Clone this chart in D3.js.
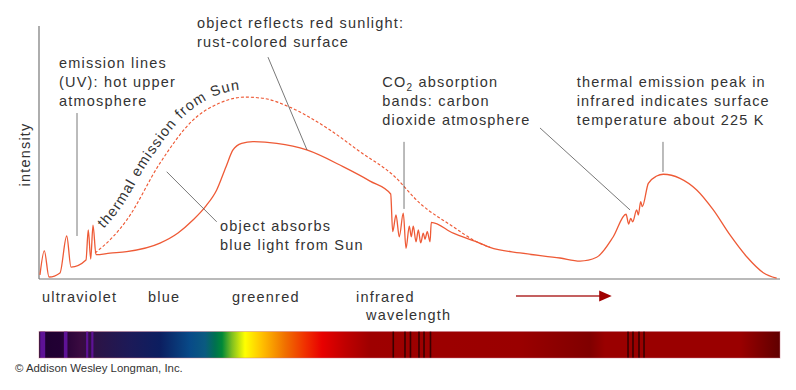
<!DOCTYPE html>
<html>
<head>
<meta charset="utf-8">
<script src="https://cdn.jsdelivr.net/npm/d3@7"></script>
<style>
  html, body { margin: 0; padding: 0; background: #fff; }
  svg text { font-family: "Liberation Sans", Arial, Helvetica, sans-serif; fill: #333; }
</style>
</head>
<body>
<div id="chart"></div>
<script>
// ── Data (wavelength position 0–100, intensity 0–100) ─────────────────────
const observedSpectrum = [
  [0.13, 1.6], [0.72, 11.1], [1.35, 0.8], [2.83, 2.4], [3.74, 17.0], [4.32, 4.7],
  [6.34, 7.5], [6.65, 19.4], [6.98, 7.9], [7.29, 21.3], [7.69, 9.6], [9.58, 10.2],
  [11.84, 10.8], [16.33, 14.2], [18.76, 18.2], [20.78, 23.3], [22.54, 28.9], [23.98, 35.2],
  [25.24, 44.4], [26.18, 51.0], [27.35, 53.6], [28.88, 54.3], [32.08, 53.6], [36.13, 51.0],
  [41.03, 44.4], [44.67, 38.7], [47.46, 33.6],
  [47.73, 18.7], [48.18, 25.3], [48.62, 16.7], [49.16, 26.0], [49.53, 12.1], [49.97, 20.9],
  [50.24, 16.7], [50.51, 20.9], [50.88, 14.7], [51.19, 19.4], [51.51, 14.3], [51.86, 18.1],
  [52.09, 15.7], [52.40, 18.7], [52.77, 14.7], [52.94, 22.4],
  [55.91, 18.1], [59.07, 14.7], [60.86, 12.5], [64.91, 10.3], [70.31, 8.3], [73.01, 7.1],
  [75.26, 8.6], [77.50, 16.7], [79.22, 25.6], [79.58, 21.7], [79.85, 24.0], [80.12, 22.6],
  [80.66, 27.3], [80.88, 25.3], [81.20, 30.6], [81.42, 28.6], [82.23, 37.8], [83.36, 40.7],
  [84.25, 41.4], [86.50, 39.8], [88.76, 35.2], [91.0, 27.3], [93.25, 17.4], [95.51, 8.8],
  [97.75, 2.5], [99.55, 0.3]
]

const sunThermal = [
  [7.56, 10.3], [9.99, 16.7], [11.84, 23.3], [16.33, 45.8], [20.78, 62.8], [24.43, 69.6],
  [27.80, 71.9], [30.50, 71.3], [33.47, 68.4], [39.27, 58.9], [43.32, 50.3], [47.77, 41.1],
  [51.42, 29.9], [55.87, 20.7], [59.07, 14.7], [60.86, 12.5]
]

const bandLabels = ['ultraviolet', 'blue', 'greenred', 'infrared']
const bandPositions = [0.40, 14.71, 26.05, 42.78]

const uvEmissionLines = [0.5, 3.6, 6.5, 7.2]
const co2AbsorptionLines = [47.81, 49.39, 50.13, 51.28, 51.96, 52.83, 79.49, 80.16, 80.97, 81.65]

const spectrumStops = [
  [0, '#1e0030'], [2.83, '#220034'], [5.53, '#3a0a40'], [8.23, '#2a1448'], [12.28, '#1c1a58'],
  [16.33, '#0c1e60'], [20.38, '#084a88'], [22.40, '#0a5a80'], [23.75, '#007050'], [24.70, '#008838'],
  [26.05, '#80c020'], [27.80, '#ffff00'], [30.09, '#ffc000'], [33.20, '#f07000'], [35.90, '#f03000'],
  [38.19, '#e80000'], [41.30, '#c00000'], [44.67, '#9e0000'], [64.91, '#9a0000'], [74.36, '#800000'],
  [76.38, '#9a0000'], [94.60, '#9a0000'], [100, '#600000']
]

// annotation text, anchor (wavelength, intensity) of first baseline, leader lines
const notes = [
  { text: ['emission lines', '(UV): hot upper', 'atmosphere'], at: [2.7, 83.5], leaders: [[5.13, 65.6, 5.13, 17.0]] },
  { text: ['object reflects red sunlight:', 'rust-colored surface'], at: [21.32, 99.1], leaders: [[30.9, 87.7, 36.17, 51.0]] },
  { text: ['CO|2| absorption', 'bands: carbon', 'dioxide atmosphere'], at: [46.33, 76.0], leaders: [[49.26, 54.2, 49.26, 27.7], [67.61, 59.7, 79.76, 27.3]] },
  { text: ['thermal emission peak in', 'infrared indicates surface', 'temperature about 225 K'], at: [72.56, 76.0], leaders: [[84.21, 54.2, 84.21, 42.3]] },
  { text: ['object absorbs', 'blue light from Sun'], at: [24.43, 19.0], leaders: [[17.23, 42.4, 23.98, 22.6]] }
]

// ── Layout ──────────────────────────────────────────────────────────────────
const WIDTH = 796
const HEIGHT = 390
const PLOT = { left: 39, right: 780, top: 26, bottom: 279 }
const LINE_H = 19
const RED = '#ee5a36'
const FONT = { size: '14.5px', spacing: '1.2px' }

const x = d3.scaleLinear().domain([0, 100]).range([PLOT.left, PLOT.right])
const y = d3.scaleLinear().domain([0, 100]).range([PLOT.bottom, PLOT.top])

const svg = d3.select('#chart')
  .append('svg')
  .attr('width', WIDTH)
  .attr('height', HEIGHT)

const g = svg.append('g')

// ── Axes ────────────────────────────────────────────────────────────────────
g.append('line')
  .attr('x1', x(0)).attr('x2', x(0))
  .attr('y1', y(100)).attr('y2', y(0))
  .attr('stroke', '#777').attr('stroke-width', 1.2)
g.append('line')
  .attr('x1', x(0)).attr('x2', x(100))
  .attr('y1', y(0)).attr('y2', y(0))
  .attr('stroke', '#777').attr('stroke-width', 1.2)

g.append('text')
  .attr('transform', `translate(30,${(y(0) + y(100)) / 2 + 2}) rotate(-90)`)
  .attr('text-anchor', 'middle')
  .style('font-size', FONT.size)
  .style('letter-spacing', FONT.spacing)
  .text('intensity')

// ── Curves ──────────────────────────────────────────────────────────────────
const line = d3.line().x(d => x(d[0])).y(d => y(d[1])).curve(d3.curveMonotoneX)

g.append('path')
  .datum(sunThermal)
  .attr('d', line)
  .attr('fill', 'none')
  .attr('stroke', RED)
  .attr('stroke-width', 1.15)
  .attr('stroke-dasharray', '3,2')

g.append('path')
  .datum(observedSpectrum)
  .attr('d', line)
  .attr('fill', 'none')
  .attr('stroke', RED)
  .attr('stroke-width', 1.3)
  .attr('stroke-linejoin', 'round')

// label that follows the sun curve, offset to its upper-left side
const guide = g.append('path')
  .datum(sunThermal.slice(0, 8))
  .attr('d', line)
  .attr('fill', 'none')
  .attr('stroke', 'none')
const node = guide.node()
const total = node.getTotalLength()
const shifted = d3.range(0, total, 2).map(s => {
  const off = 13 - 6 * (s / total)
  const p = node.getPointAtLength(s)
  const a = node.getPointAtLength(Math.max(0, s - 2))
  const b = node.getPointAtLength(Math.min(total, s + 2))
  const dx = b.x - a.x, dy = b.y - a.y
  const n = Math.hypot(dx, dy) || 1
  return [p.x + dy / n * off, p.y - dx / n * off]
})
guide.remove()
g.append('path')
  .attr('id', 'sunLabel')
  .attr('d', d3.line().curve(d3.curveBasis)(shifted))
  .attr('fill', 'none')
g.append('text')
  .style('font-size', FONT.size)
  .style('letter-spacing', FONT.spacing)
  .append('textPath')
  .attr('href', '#sunLabel')
  .attr('startOffset', 22)
  .text('thermal emission from Sun')

// ── Annotations ─────────────────────────────────────────────────────────────
notes.forEach(note => {
  note.leaders.forEach(([x1, y1, x2, y2]) => {
    g.append('line')
      .attr('x1', x(x1)).attr('y1', y(y1))
      .attr('x2', x(x2)).attr('y2', y(y2))
      .attr('stroke', '#555').attr('stroke-width', 0.8)
  })
  const t = g.append('text')
    .style('font-size', FONT.size)
    .style('letter-spacing', FONT.spacing)
  note.text.forEach((str, i) => {
    const row = t.append('tspan')
      .attr('x', x(note.at[0]))
      .attr('y', y(note.at[1]) + i * LINE_H)
    const parts = str.split('|')
    if (parts.length === 3) {
      row.append('tspan').text(parts[0])
      row.append('tspan').attr('dy', 4).style('font-size', '10px').text(parts[1])
      row.append('tspan').attr('dy', -4).text(parts[2])
    } else {
      row.text(str)
    }
  })
})

// ── Band labels + wavelength arrow ─────────────────────────────────────────
g.selectAll('.band')
  .data(bandLabels)
  .join('text')
  .attr('class', 'band')
  .attr('x', (d, i) => x(bandPositions[i]))
  .attr('y', PLOT.bottom + 23)
  .style('font-size', FONT.size)
  .style('letter-spacing', FONT.spacing)
  .text(d => d)

g.append('text')
  .attr('x', x(44.13))
  .attr('y', PLOT.bottom + 41)
  .style('font-size', FONT.size)
  .style('letter-spacing', FONT.spacing)
  .text('wavelength')

const arrowY = PLOT.bottom + 17
g.append('line')
  .attr('x1', x(64.37)).attr('x2', x(75.8))
  .attr('y1', arrowY).attr('y2', arrowY)
  .attr('stroke', '#c46060').attr('stroke-width', 2)
g.append('path')
  .attr('d', `M${x(75.6)},${arrowY - 5.5}L${x(77.29)},${arrowY}L${x(75.6)},${arrowY + 5.5}Z`)
  .attr('fill', '#a00000')

// ── Spectrum bar ────────────────────────────────────────────────────────────
const BAR = { top: 331.5, height: 26.5 }
const grad = svg.append('defs').append('linearGradient')
  .attr('id', 'spectrum')
  .attr('gradientUnits', 'userSpaceOnUse')
  .attr('x1', x(0)).attr('x2', x(100))
  .attr('y1', 0).attr('y2', 0)
grad.selectAll('stop')
  .data(spectrumStops)
  .join('stop')
  .attr('offset', d => d[0] / 100)
  .attr('stop-color', d => d[1])

g.append('rect')
  .attr('x', x(0)).attr('y', BAR.top)
  .attr('width', x(100) - x(0)).attr('height', BAR.height)
  .attr('fill', 'url(#spectrum)')

g.selectAll('.uv-line')
  .data(uvEmissionLines)
  .join('rect')
  .attr('class', 'uv-line')
  .attr('x', (d, i) => x(d) - (i === 0 ? 2.5 : i === 1 ? 1.8 : 1.1))
  .attr('y', BAR.top)
  .attr('width', (d, i) => i === 0 ? 5 : i === 1 ? 3.6 : 2.2)
  .attr('height', BAR.height)
  .attr('fill', '#5e1296')

g.selectAll('.co2-line')
  .data(co2AbsorptionLines)
  .join('rect')
  .attr('class', 'co2-line')
  .attr('x', d => x(d) - 0.8)
  .attr('y', BAR.top)
  .attr('width', 1.6)
  .attr('height', BAR.height)
  .attr('fill', '#3a0000')

g.append('rect')
  .attr('x', x(0)).attr('y', BAR.top)
  .attr('width', x(100) - x(0)).attr('height', BAR.height)
  .attr('fill', 'none')
  .attr('stroke', 'rgba(200,120,140,0.45)')
  .attr('stroke-width', 1)

// ── Credit ──────────────────────────────────────────────────────────────────
g.append('text')
  .attr('x', 15)
  .attr('y', 372)
  .style('font-size', '11.4px')
  .text('© Addison Wesley Longman, Inc.')
</script>
</body>
</html>
